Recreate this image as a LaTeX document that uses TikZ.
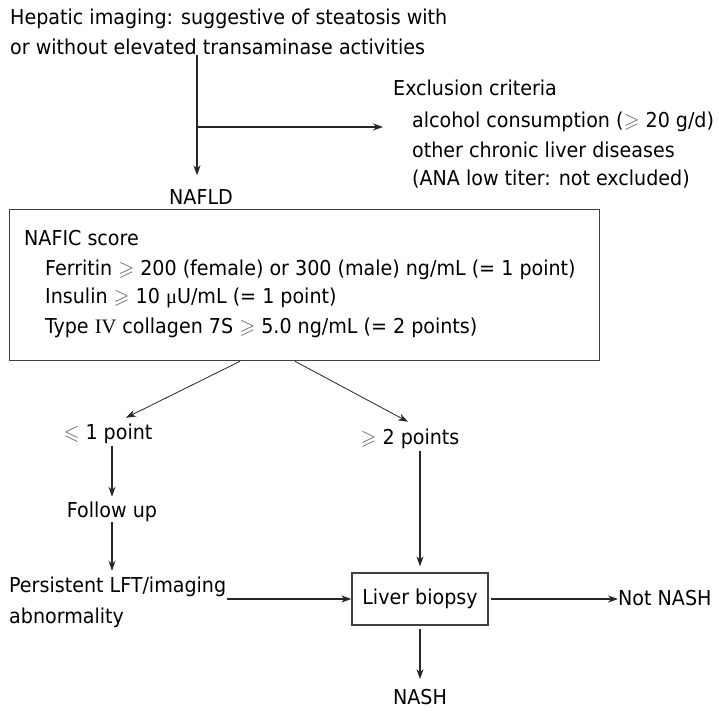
\documentclass[tikz,border=0pt]{standalone}
\usepackage{amssymb}
\usepackage{fontspec}
\setmainfont{DejaVu Sans Condensed}[FakeStretch=1.035]
\newfontfamily\romanf{Liberation Serif}
\usetikzlibrary{arrows.meta,calc}
\newcommand\mygeq{{\color{black!60}$\geqslant$}}
\newcommand\myleq{{\color{black!60}$\leqslant$}}
\begin{document}
\begin{tikzpicture}[x=1pt,y=-1pt,
  txt/.style={inner sep=0pt, font=\fontsize{20.5}{30}\selectfont},
  arr/.style={-{Stealth[length=10pt,width=7pt]}, line width=1.1pt, draw=black!85},
  frame/.style={draw=black!75, line width=1.3pt}]
\useasboundingbox (0,0) rectangle (719,712);
\fill[white] (0,0) rectangle (719,712);

% top
\node[txt, anchor=base west] (hep1) at (10,24.5) {Hepatic imaging: suggestive of steatosis with};
\node[txt, anchor=base west] (hep2) at (10,54.5) {or without elevated transaminase activities};
\coordinate (split) at (197,127);
\node[txt, anchor=base] (nafld) at (201,204.5) {NAFLD};
\draw[arr, shorten >=14pt] (hep2.south -| split) -- (nafld.north -| split);

\node[txt, anchor=base west] (exc0) at (393,95.5) {Exclusion criteria};
\node[txt, anchor=base west] (exc1) at (412,127.5) {alcohol consumption (\mygeq{} 20 g/d)};
\node[txt, anchor=base west] (exc2) at (412,157.5) {other chronic liver diseases};
\node[txt, anchor=base west] (exc3) at (412,185.5) {(ANA low titer: not excluded)};
\draw[arr, shorten >=10pt] (split) -- (split -| exc0.west);

% NAFIC box
\node[frame, minimum width=590pt, minimum height=151pt, anchor=north west, inner sep=0pt] (nafic) at (9,209) {};
\node[txt, anchor=base west] (n0) at (24,245.5) {NAFIC score};
\node[txt, anchor=base west] (n1) at (45,275) {Ferritin \mygeq{} 200 (female) or 300 (male) ng/mL (= 1 point)};
\node[txt, anchor=base west] (n2) at (45,303) {Insulin \mygeq{} 10 {\romanf μ}U/mL (= 1 point)};
\node[txt, anchor=base west] (n3) at (45,333) {Type {\romanf IV} collagen 7S \mygeq{} 5.0 ng/mL (= 2 points)};

% branches
\node[txt, anchor=base] (le1) at (108,439.5) {\myleq{} 1 point};
\node[txt, anchor=base] (ge2) at (410,444.5) {\mygeq{} 2 points};
\coordinate (bA) at ($(nafic.south west)+(231,0)$);
\coordinate (bB) at ($(nafic.south west)+(286,0)$);
\draw[arr, line width=0.8pt] (bA) -- ($(le1.north)+(18,-6)$);
\draw[arr, line width=0.8pt] (bB) -- ($(ge2.north)+(-2,-7)$);

\node[txt, anchor=base] (follow) at (112,517.5) {Follow up};
\draw[arr, shorten <=2pt, shorten >=5pt] (le1.south -| follow.north) -- (follow.north);

\node[txt, anchor=base west] (pers1) at (9,592.5) {Persistent LFT/imaging};
\node[txt, anchor=base west] (pers2) at (9,623.5) {abnormality};
\draw[arr, shorten >=6pt] (follow.south) -- (follow.south |- pers1.north);

\node[frame, txt, minimum width=136pt, minimum height=52pt] (biopsy) at (420,599) {Liver biopsy};
\draw[arr, shorten <=1pt] (pers1.east |- biopsy.west) -- (biopsy.west);
\draw[arr, shorten <=2pt, shorten >=6pt] (ge2.south -| biopsy.north) -- (biopsy.north);

\node[txt, anchor=base west] (notnash) at (618,605.5) {Not NASH};
\draw[arr, shorten <=2pt] (biopsy.east) -- (biopsy.east -| notnash.west);

\node[txt, anchor=base] (nash) at (420,704.5) {NASH};
\draw[arr, shorten <=3pt, shorten >=10pt] (biopsy.south) -- (biopsy.south |- nash.north);
\end{tikzpicture}
\end{document}
